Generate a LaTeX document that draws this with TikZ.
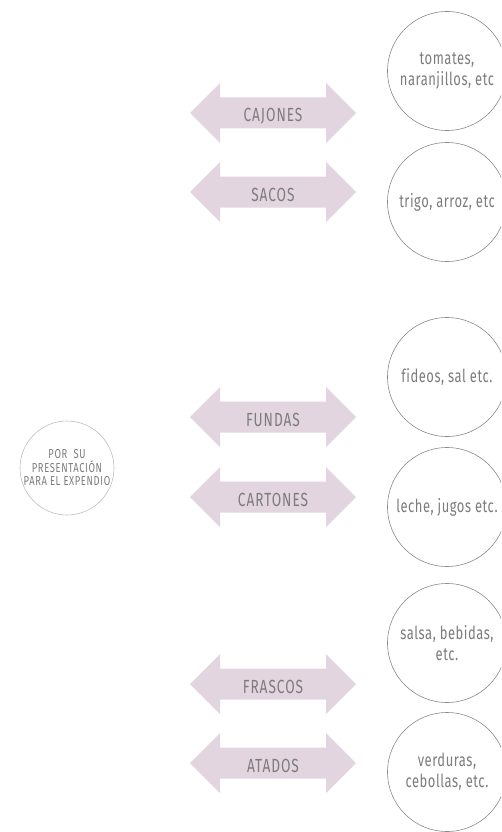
\documentclass[tikz,border=0pt]{standalone}
\usepackage{fontspec}
\setmainfont{Fira Sans}[FakeStretch=0.72,LetterSpace=3,Ligatures=NoCommon]
\newfontfamily\spacedfont{Fira Sans}[FakeStretch=0.72,LetterSpace=5,Ligatures=NoCommon]
\definecolor{arrowfill}{HTML}{E2D5E0}
\definecolor{txtgray}{HTML}{7C7C7C}
\definecolor{ringgray}{HTML}{8A8A8A}
\definecolor{lightring}{HTML}{BEBEBE}
% double-headed block arrow with its label: name, centre y, text
\newcommand\duplearrow[3]{%
  \fill[arrowfill] (190,#2) -- (220,#2-30) -- (220,#2-15.5) -- (326,#2-15.5)
    -- (326,#2-30) -- (356,#2) -- (326,#2+30) -- (326,#2+15.5)
    -- (220,#2+15.5) -- (220,#2+30) -- cycle;
  \node[kind] (#1) at (273,#2+3) {#3};}
\begin{document}
\begin{tikzpicture}[x=1pt,y=-1pt,
  kind/.style={text=txtgray, inner sep=0pt, font=\spacedfont\fontsize{19}{19}\selectfont},
  item/.style={circle, draw=ringgray, line width=0.6pt, minimum size=119pt,
    inner sep=0pt, align=center, text=txtgray,
    font=\fontsize{18}{21}\selectfont},
  root/.style={circle, draw=lightring, line width=0.6pt, minimum size=94pt,
    inner sep=0pt, align=center, text=txtgray,
    font=\spacedfont\fontsize{13}{13.5}\selectfont}]
\useasboundingbox (0,0) rectangle (501,832);
\clip (0,0) rectangle (501,832);

% classification root
\node[root] (pres) at (67,468) {POR\ \ SU\\PRESENTACIÓN\\PARA EL EXPENDIO};

% packaging types
\duplearrow{cajones}{113}{CAJONES}
\duplearrow{sacos}{192}{SACOS}
\duplearrow{fundas}{417}{FUNDAS}
\duplearrow{cartones}{497}{CARTONES}
\duplearrow{frascos}{684}{FRASCOS}
\duplearrow{atados}{763}{ATADOS}

% example products
\node[item] (ej1) at (447,71) {tomates,\\naranjillos, etc};
\node[item] (ej2) at (447,202) {trigo, arroz, etc};
\node[item] (ej3) at (447,377) {fideos, sal etc.};
\node[item] (ej4) at (447,507) {leche, jugos etc.};
\node[item] (ej5) at (447,643) {salsa, bebidas,\\etc.};
\node[item] (ej6) at (447,772) {verduras,\\cebollas, etc.};
\end{tikzpicture}
\end{document}
